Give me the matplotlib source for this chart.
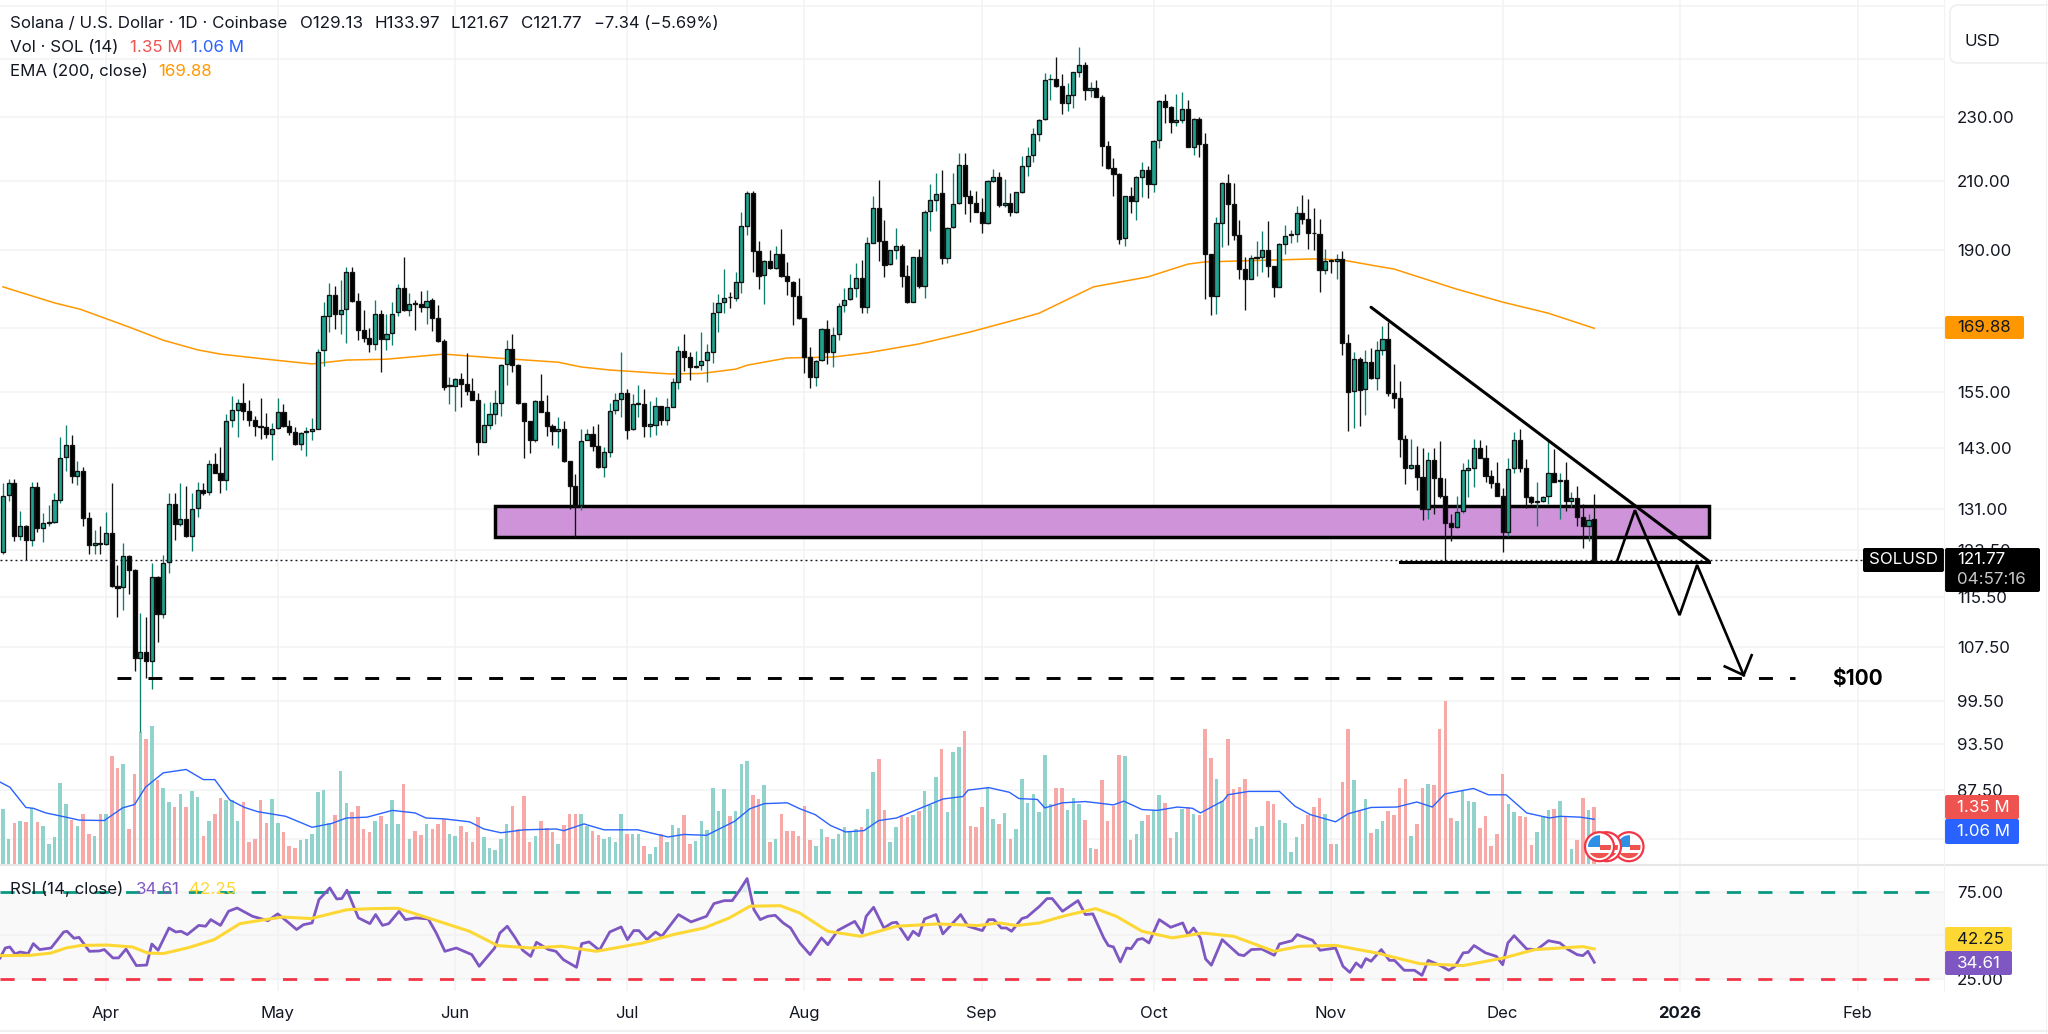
import matplotlib
matplotlib.use("Agg")
import matplotlib.pyplot as plt
from matplotlib.patches import Rectangle, Circle, FancyBboxPatch
from matplotlib.ticker import NullLocator, FixedLocator, FixedFormatter
import numpy as np

plt.rcParams['font.family'] = ['Inter', 'DejaVu Sans']
plt.rcParams['lines.scale_dashes'] = False

first_day = -18  # days relative to 1 April 2025

opens = [
 123.2,133.7,136,126,127.9,125.3,135.3,127.5,128.4,128.6,
 132.8,141.1,143.6,137.4,138.4,129.4,124.5,124.7,124.6,126.6,
 117.3,117.1,122.5,120.1,105.7,106.7,105.3,118.9,112.7,121.4,
 132,128.3,129.2,126,131.2,134.6,134.2,139.7,137.9,136.6,
 148.9,151.1,152.6,150.8,149,147.7,147.5,146,147.2,150.7,
 147.7,146.3,143.9,146.3,146.6,147.1,164.6,173,178.1,173.5,
 174.6,184.3,176.7,169.4,167.6,166.2,173.5,167.2,168.8,174,
 180,174.4,176.1,176,175.2,176.9,172.4,166.8,156.4,156.4,
 158,156.9,155.2,153.3,144.3,147.9,150.1,152.6,161.3,165,
 161.2,152.5,148.7,144.6,153,150.7,147.6,146.5,146.9,140.3,
 135.5,131.7,144.6,145.9,143.5,139.2,142.3,151,153.4,154.8,
 146.9,152.3,152.4,147.7,147.9,151.9,148.9,151.7,157.3,164.4,
 163,160.7,161.2,162.3,164.3,173.9,176.3,177.7,177.4,181.7,
 196.9,206.2,189.9,183.4,187,185.2,189,183.2,181.7,177.9,
 172.3,163,158.5,162.3,169.6,164.3,168.4,175.6,177.1,180.1,
 182.7,175.1,192,202,192.6,186.3,190.1,191.2,183.2,176.5,
 188.1,180.5,201,204.4,206.2,188,196.4,203.4,214.8,205.4,
 203.3,200.9,197.5,210,211.1,202.8,203.5,200.7,206.7,214.5,
 217.8,224.7,229.4,243,243.1,240.5,235,237.7,245.6,248,
 239.3,240.1,236.9,220.9,213.8,212.1,193.4,205.4,204,211,
 213.3,209,222.7,235.5,233.6,228.6,229.2,232.9,220.6,229.4,
 221.4,189,178,197.5,209.2,203,194.2,185,182.4,187.9,
 188.3,190.1,185.8,180.4,191.8,194.2,194.6,200.4,198.9,194.9,
 194.4,184.8,187.3,187,187.8,166.3,155.3,162.5,155.6,161.8,
 158.1,164.7,167.3,154.8,153.6,144.8,139,139.5,137.2,131.1,
 140.6,137,133.5,128.5,127.6,130.6,138.5,139,143,141,
 137.4,136.1,133.5,126.7,138.9,144.7,139,133.4,132.4,132.5,
 133.5,137.9,136.5,136.6,132.5,133.1,129.5,127.8,129.13]

highs = [
 136.1,136.9,136.8,130.6,128.1,136.3,136.3,130.2,131.7,134,
 145.3,147.9,145.7,140.4,139.1,130.5,127.2,127.8,130.5,136.1,
 120.9,124.7,122.6,120.2,112.8,112.2,121.3,119,122.6,134,
 134,136,135.4,134.1,136.2,136.1,140.6,142.1,143.2,150.3,
 154.1,153.4,157.1,153.2,149.8,153.6,150.4,148.2,153.7,152.3,
 149,147.4,146.4,147.5,149.4,165,176.5,181.2,180.5,182,
 185.5,185.5,178.6,174.4,170,176.9,174.4,173.3,176.5,181,
 188.1,178.8,176.9,179.2,179.6,177.5,175.6,167.4,158.3,158.2,
 159.2,163.9,158.1,154.7,152.6,152.8,155.5,161.5,167,168.4,
 161.5,152.6,148.8,153.3,159,154.4,148.1,149.6,148.8,140.3,
 137.8,147.1,147.1,147.7,148.1,143.3,152.6,154.8,164.1,155.8,
 154.5,156.5,155.8,153,154,152,153.6,158.2,165.5,168.5,
 164.2,164.4,168.9,166,176.4,178.4,184.9,179,184.1,200.9,
 207,207,192.6,187.5,190.1,191.1,195.8,186.8,181.8,182.7,
 172.4,165.3,162.3,170,171.9,170.2,176.1,180.1,183.8,186.6,
 187.4,193.8,205.5,210.2,198.6,190.2,196.2,191.8,186,188.2,
 190.3,201.3,208.9,212.4,213.2,196.4,212.4,218.5,218.4,207.2,
 207,205,210.2,213.5,212.6,210.4,206.4,206.6,217.6,220.4,
 226.5,229.4,245.1,244.9,250.8,244.7,241.7,245.6,254.4,249.2,
 242,242.6,237.5,222.2,216.9,212.3,205.6,208.2,211.3,215.6,
 214.4,222.7,235.9,237.8,233.8,238,238.7,235.9,229.7,230.3,
 224.9,189,199.4,209.7,212,209.4,198.6,188.3,188.8,192.6,
 195.3,198.2,185.8,192,197,195.7,202.5,205.7,204.5,202,
 198.7,190.5,187.6,188.9,189.8,168.6,164.1,163.1,164.7,165.1,
 166.9,170.5,171.5,161.4,157.4,145.7,144.8,143.4,143,142.2,
 143,144.4,137,130,133.5,140,140.7,144.8,144.7,143.7,
 138.6,140.1,135.1,141,146.4,147,140.8,133.5,136.3,133.5,
 145,142.8,138,140.1,134.2,135.5,132,130.1,133.97]

lows = [
 122.9,132.6,125.2,125.4,121.8,124.2,126.7,125,127.8,128.5,
 132.2,138.3,136.1,135.7,127.8,122.8,122.9,122.8,124.5,117.2,
 112.2,113.3,115.9,103.8,95.1,102.8,101.1,108.2,112,119.5,
 125.4,127.9,125.9,123.4,129.5,133.6,133.6,137.9,134,134.7,
 147.5,145.4,149,147.6,145.6,144.9,145.1,140.6,147.1,147.5,
 145.7,143.7,142.6,141.4,144.7,146.9,161,169,169.6,168.6,
 166.3,176.5,167,166.6,164.2,164.6,159.6,164.6,165.8,173,
 174.2,173,169.4,173.8,171,169.2,166.6,155.4,152.3,150.9,
 151.7,154.3,153.2,141.7,144.3,147.1,148.1,149.8,156.5,159.6,
 152.3,141,142,144.3,150.7,145.6,143.6,143.1,140.2,131.1,
 125.9,130.8,144.6,142.5,138.9,137.2,141.2,150.3,149.6,145,
 146.7,149.6,145.3,145.4,145.8,147.9,147.9,151.7,155.8,159.8,
 157.8,160.4,160,157.3,161.7,169,173.7,175,176.8,178.8,
 194.2,184.3,179.7,175.9,185,185,183,178.3,170.7,172.2,
 159.4,156,156.3,162.1,161.5,160.8,167,174,176.9,177.8,
 173.7,173.7,191.9,187.1,183,186,187.8,180.3,176.1,176.4,
 180.1,177.5,195.5,201,186.4,186.5,196.2,203.2,200.3,198,
 200.9,194.7,197.3,209.7,202.3,202.3,199.7,200.6,206.4,211.3,
 215.8,222.5,229.2,236,240.2,231,232,233,243.7,235.9,
 237,236.7,214.4,213.5,205.4,191.8,191.3,200.5,198.5,205.2,
 204.8,206.7,220.2,228.1,225,227.3,228.1,220.4,217.9,217.2,
 177.2,173.2,173.5,190.9,191.5,192.9,182.4,174.5,182.3,183.2,
 184.3,183,177.7,180.3,189,192,192.4,197.4,190.5,190,
 178.9,183.7,184,182.4,163.6,146.6,147.2,147.7,149.9,158,
 155.4,163.5,154.1,151.6,141.2,135.9,138.8,134.7,128.9,129.1,
 130,133.2,121.6,125.2,127.5,130.3,133.4,135.3,141,136.2,
 135.1,133.5,123.2,126.1,138,138.1,131.2,132,127.8,132.3,
 132,136.3,129.2,130.6,131.5,127.8,123.8,125.1,121.67]

closes = [
 133.5,136,126,127.9,125.3,135.3,127.5,128.4,128.6,132.8,
 140.9,143.6,137.4,138.4,129.4,124.5,124.7,124.6,126.6,117.3,
 117,122.5,120.1,105.7,106.7,105.3,118.9,112.7,121.2,132,
 128.3,129.2,126,131.1,134.6,134.1,139.7,137.9,136.6,148.7,
 151.1,152.6,150.8,149,147.7,147.5,146,147.1,150.7,147.7,
 146.3,143.9,146.2,146.6,147.1,164.3,172.9,178.1,173.5,174.4,
 184.3,176.7,169.4,167.6,166.2,173.5,167.2,168.6,173.5,180,
 174.4,175.8,175.9,175.2,176.7,172.4,166.8,156.2,156.6,158,
 156.9,155.2,153.3,144.3,147.9,150.1,152.5,161.2,165,161.2,
 152.5,148.7,144.6,153,150.7,147.6,146.5,146.9,140.3,135.5,
 131.6,144.4,145.9,143.5,139.1,142.2,150.9,153.2,154.8,146.8,
 152.3,152.5,147.7,148,151.9,148.9,151.7,157.2,164.4,163,
 160.7,161,162.1,164.1,173.7,176.1,177.4,177.6,181.6,196.7,
 206.2,189.9,183.2,187,185.2,189,183.2,181.8,177.9,172.3,
 163,158.5,162.1,169.6,164.3,168.2,175.5,176.9,180,182.7,
 175.1,191.9,202,192.6,186,190.1,191.2,183.2,176.4,188.1,
 180.5,200.8,204.2,206,188,196.2,203.2,214.8,205.4,203.3,
 200.9,197.5,210,211.1,202.8,203.5,200.7,206.5,214.4,217.7,
 224.5,229.2,242.8,243.2,240.5,235,237.5,245.4,248,239.3,
 240.1,236.9,220.9,213.8,212.1,193.2,205.4,204,211,213.3,
 209,222.5,235.5,233.6,228.6,229.2,232.9,220.6,229.4,221.4,
 189,178,197.5,209.2,203,194.2,185,182.4,187.9,188.3,
 190.1,185.8,180.4,191.7,194,194.6,200.4,198.9,194.8,194.7,
 184.8,187.2,187,187.8,166.3,155.1,162.5,155.4,161.8,158.1,
 164.6,167.3,154.8,153.6,144.8,139,139.5,137.2,131.1,140.6,
 137,133.5,128.5,127.6,130.4,138.5,138.9,143,141,137.4,
 136.1,133.5,126.7,138.8,144.7,139,133.4,132.4,132.5,133.4,
 137.9,136.3,136.6,132.5,133.1,129.5,127.8,129,121.77]

volumes = [
 1.30,.59,.97,1.03,.99,1.33,1.00,.89,.47,.63,
 1.92,1.43,1.05,.89,1.19,.72,.66,1.18,1.19,2.55,
 2.27,2.38,.83,2.14,3.12,2.97,3.28,2.00,1.80,1.48,
 1.34,1.66,1.35,1.74,1.59,.66,1.03,1.18,1.56,1.52,
 1.51,1.01,1.48,.52,.59,1.52,.96,1.54,.96,.77,
 .42,.38,.56,.59,.70,1.71,1.75,.97,1.15,2.20,
 1.45,1.23,1.37,.84,.76,1.03,1.13,.95,1.52,.95,
 1.90,.59,.79,.68,.95,.84,.95,1.07,.71,.66,
 .89,.76,.52,1.11,.64,.39,.34,.59,.95,1.38,
 .84,1.62,.51,.67,1.03,.85,.75,.47,.93,1.19,
 1.19,1.19,.91,.79,.68,.60,.64,.51,1.18,.71,
 .70,.70,.43,.24,.40,.70,.51,.93,.85,1.15,
 .48,.54,1.03,.81,1.79,1.26,1.78,1.13,1.26,2.38,
 2.43,1.64,1.54,1.88,.52,.59,1.19,.79,.79,.67,
 1.37,.58,.43,.83,.63,.59,.71,.87,.79,.83,
 .88,1.31,2.19,2.50,1.29,.52,.88,1.17,1.11,1.17,
 1.26,1.74,1.40,2.07,2.73,1.24,2.65,2.78,3.16,.89,
 .87,1.36,1.82,1.07,.95,1.22,.60,.83,2.01,1.44,
 1.66,1.24,2.59,1.41,1.79,1.81,1.29,1.57,1.42,1.05,
 .39,.36,2.00,1.01,1.37,2.59,2.57,.58,.71,1.03,
 1.17,1.27,1.64,1.45,.62,.77,1.30,1.34,1.18,1.15,
 3.20,2.52,2.01,1.50,2.96,1.78,1.82,2.01,.60,.87,
 .91,1.50,1.43,1.05,.96,.29,.65,.95,1.15,1.34,
 1.57,1.19,.47,.47,1.94,3.21,1.99,1.27,1.55,.73,
 .83,1.03,1.25,1.17,1.79,2.02,.66,.95,1.81,1.90,
 1.88,3.21,3.86,1.10,1.03,1.72,1.49,1.47,.86,1.14,
 .43,.71,2.13,1.43,1.23,1.14,1.12,.46,.76,1.13,
 1.29,1.30,1.49,1.11,.36,.58,1.56,1.29,1.35]

ema_days = [-18,-9,-4.5,4,10,16,20,28,36,42,49,59,64,68,79,83,88,98.5,104,110,112,119,127,133,142,
            151,160,163,172.5,182,189,192,197,211,216,223,225,236,244,252,260]
ema_vals = [180.3,176.2,174.6,170.2,167,164.7,163.7,162.5,161.4,162.3,162.5,163.7,163.2,162.8,161.8,160.7,
            160,159.1,159.2,160.2,161.1,162.8,163,164,166.1,169,172.4,173.6,180.3,182.9,186.3,186.9,187.1,
            187.7,187.4,185.5,185,179.7,176.4,173.6,169.88]

volma_days = [-18.5,-16.8,-14,-12.7,-10.5,-7,-4.7,-.3,2.9,5,6.9,10,14,17,19,21.6,24.2,26.5,31.4,36,39.4,42,45.6,50,54,
              55.9,59,63.5,66,69,73,78.6,80,83.5,87,92.9,98.2,100.9,104.9,109.8,112.5,115,119,121.2,123.9,126.6,129.2,
              132.4,135,138.1,146.2,149.7,150.6,154.2,157.8,159.5,162.7,164,167.1,171.1,176,177.8,181,183.6,187.2,189.8,
              191.2,195.2,196,199.6,205,207.7,210.4,214.8,217,221,225.5,229,231.7,233.9,238.9,241.5,244.6,248.2,252.2,
              254,257.6,260]
volma_vals = [1.94,1.82,1.34,1.32,1.21,1.11,1.04,1.03,1.33,1.41,1.82,2.16,2.24,2.00,2.00,1.52,1.34,1.24,1.13,.87,.96,
              1.09,1.11,1.27,1.21,1.09,1.07,1.00,.83,.74,.81,.83,.79,.95,.81,.81,.64,.70,.68,1.01,1.31,1.43,1.45,1.31,
              1.17,.91,.76,.79,1.03,1.09,1.54,1.60,1.75,1.81,1.70,1.55,1.53,1.33,1.45,1.48,1.40,1.49,1.29,1.27,1.35,1.32,
              1.21,1.50,1.64,1.72,1.72,1.37,1.17,1.00,1.19,1.34,1.35,1.47,1.35,1.66,1.79,1.64,1.64,1.21,1.09,1.13,1.11,1.06]

rsi_days = [-18.5,-17.6,-16.8,-15.9,-15,-13.6,-12.7,-11.6,-9.6,-7.4,-6.8,-5.6,-4.7,-2.9,-1.2,-.3,1.2,2.2,3.5,5.3,7.1,8,
            9.1,11,12.2,13.1,14.2,16.2,17.4,18.3,20,21.4,22.9,25.6,28.3,30,31.8,33.3,34.5,36,37.2,39.1,40.3,41.2,42.1,
            44.1,46.1,47.1,48.3,49.4,51.2,52.3,54.1,56.3,57.7,59.2,61.2,63.9,65.2,67.9,68.8,70.1,71.5,72.8,74.2,75.2,
            77.3,78.6,79.9,82.2,83.1,84.4,86.2,88,90,91.1,92.2,93.1,94.5,96,97.1,100,102.2,104.9,106.2,108,109.4,110.7,
            112,113.2,114.3,115.6,116.9,118.3,119.6,121.2,123,125,126.1,127.9,130.8,132.1,132.8,134.1,135.9,137.3,138.1,
            140.1,141,142,143,145,146.2,149.3,150.6,153.1,154.2,155.1,156.4,157.3,158.2,160,160.9,163.1,164.4,165.3,
            167.1,169.8,171.1,172.4,174.3,175.1,176,177.2,178.3,179.1,180.2,181.1,182.2,184,186,188.1,189,190,191.2,
            192.1,193.1,195,197.9,198.8,200.1,201.9,204.1,205,207.2,208.1,210.8,212.1,214.8,216.1,217.3,218.4,219.3,
            220.1,221,222.8,224.2,225.1,226.8,228.6,229.9,231,233,234.6,235.7,237.1,238,239,241,242.9,244,244.9,246,
            248.2,250,252,254,255.3,257,258,258.9,260]
rsi_vals = [37.1,42.8,43.4,39.4,40.5,39.6,45.3,41.9,42.8,52,52.4,48.4,48.9,40.9,41.1,41.9,37.1,37.1,42.2,32.7,33,45.1,
            41.5,54.3,52,52.4,50.5,55.8,55.3,59.1,55.8,63.9,65.8,61,58.5,62.4,57.6,53.4,56.2,57.2,70.6,77.3,71,71.2,76,
            60.1,56.8,62,55.8,56.8,63.9,59.1,60.1,59.5,51.4,40.9,42.8,39,32.3,42.8,51.4,55.3,48.6,41.5,38,46.1,
            41.9,40.9,36.1,31.7,45.3,46.3,41.5,52,54.9,47.6,52.8,52.8,47.6,52,49.5,62,57.8,61,68.3,70,70,76,
            82.7,64.8,59.1,61,61.6,57.2,54.3,45.7,39,48.6,44.7,53,58.1,51.4,61,66.2,54.3,57.2,57.6,
            47.6,52.4,49.9,59.5,62,50.9,62,55.3,52.8,59.1,59.1,54.3,54.3,52.4,59.7,60.6,66.8,71.2,71.2,
            63.9,70,62,62.4,48.6,44.2,43.4,34.8,42.8,42.4,47.6,48.2,45.7,59.1,54.7,57.2,50.5,54.3,48.6,
            36.5,32.9,47.6,39,38.4,41.9,42.2,38.6,45.1,47,50.5,47.2,41.5,42.8,32.3,28.8,34.2,31.7,
            36.7,35.2,41.9,35.7,35.7,30,30,27.1,35.7,32.9,30,32.3,40,40.3,44.2,40,38,33.2,45.7,49.9,
            42.2,41.9,47,45.7,42.2,39,38.4,40.9,34.61]

rsima_days = [-18.5,-13.2,-9.6,-7,-4.3,.2,4.6,7.3,10,14.4,18.9,23.4,27.8,30.9,35.8,42.1,46.5,51,57.2,63.5,68.4,74.2,79.5,
              85.7,93.8,99.1,104.5,108.9,112.5,117.8,121.2,126.1,131.9,138.1,145.3,152.4,156,159.1,163.1,167.6,172.9,
              176.5,181,186.3,191.6,197,204.1,208.6,214.8,221.9,229.5,237.1,244.2,249.6,258,260]
rsima_vals = [38.4,38.6,39.9,42.8,44.3,44.5,43.4,39.9,39.6,43,47.6,56.8,59.1,60.6,59.7,64.8,65.4,65.6,59.1,52.4,44.2,42.8,
              43.8,40.9,45.7,50.5,54.3,60.1,66.8,67.1,62.9,52.4,49.5,55.3,56.6,55.7,57.2,55.7,57.2,61.4,65.4,61,52.4,48.6,
              51.4,49.5,40.9,43.8,44.3,40,33.8,32.7,37.1,41.9,43.6,42.25]

month_days = [0,30,61,91,122,153,183,214,244,275,306]
month_labels = ['Apr','May','Jun','Jul','Aug','Sep','Oct','Nov','Dec','2026','Feb']
price_ticks = [270,250,230,210,190,170,155,143,131,123.5,115.5,107.5,99.5,93.5,87.5,81.5]
price_shown = [230,210,190,155,143,131,123.5,115.5,107.5,99.5,93.5,87.5]
rsi_ticks = [75,25]

zone_days, zone_prices = (68, 280), (125.8, 131.6)
trend_days, trend_prices = [221, 280], [175.1, 121.6]
support_days, support_prices = [226, 280], [121.4, 121.4]
target_days, target_prices = [2, 295], [102.8, 102.8]
path_days = [264, 267.1, 274.9, 277.96, 286.1]
path_prices = [121.6, 130.8, 112.5, 120.9, 103.2]
head_days = [282.8, 286.1, 287.5]
head_prices = [104.5, 103.2, 106.2]

# ---------------------------------------------------------------- layout
W, H = 2048, 1034
fig = plt.figure(figsize=(W/100, H/100), dpi=100, facecolor='white')
def rect(x0, y0, x1, y1):
    return [x0/W, 1-y1/H, (x1-x0)/W, (y1-y0)/H]

days = np.arange(first_day, first_day+len(closes))
o, h, l, c = map(np.array, (opens, highs, lows, closes))
up = c >= o
xlim = (-18.52, 321.1)
GRID = '#f2f2f3'
TEXT = '#131722'

ax_g = fig.add_axes(rect(0, 0, 1944, 864), zorder=1)
ax_g.set_yscale('log')
ax_g.set_xlim(*xlim)
ax_g.set_ylim(78.67, 272.3)
ax_g.yaxis.set_major_locator(FixedLocator(price_ticks))
ax_g.yaxis.set_major_formatter(FixedFormatter(
    [f'{t:.2f}' if t in price_shown else '' for t in price_ticks]))
ax_g.yaxis.set_minor_locator(NullLocator())
ax_g.yaxis.tick_right()
ax_g.tick_params(axis='y', length=0, pad=9.4, labelsize=12.2, labelcolor=TEXT)
ax_g.set_xticks(month_days)
ax_g.tick_params(axis='x', length=0, labelbottom=False)
ax_g.grid(True, color=GRID, lw=1.1)
ax_g.set_axisbelow(True)
for s in ax_g.spines.values():
    s.set_visible(False)

ax_v = fig.add_axes(rect(0, 0, 1944, 864), sharex=ax_g, zorder=2)
ax_v.patch.set_alpha(0)
ax_v.set_ylim(0, 864/42.2)
ax_v.bar(days, volumes, width=0.62, color=['#92d2cc' if u else '#f7a9a7' for u in up], linewidth=0)
ax_v.plot(volma_days, volma_vals, color='#2962ff', lw=1.0)
ax_v.axis('off')

ax_c = fig.add_axes(rect(0, 0, 1944, 864), sharex=ax_g, sharey=ax_g, zorder=3)
ax_c.patch.set_alpha(0)
ax_c.axis('off')
# zone sits under the candles
ax_c.add_patch(Rectangle((zone_days[0], zone_prices[0]), zone_days[1]-zone_days[0],
                         zone_prices[1]-zone_prices[0], fc='#ce93d8', ec='#000000', lw=2.5, zorder=1))
ax_c.plot(ema_days, ema_vals, color='#ff9800', lw=1.1, zorder=2)
ax_c.vlines(days, l, h, colors=['#0e7d6d' if u else '#111111' for u in up], lw=0.95, zorder=3)
ax_c.bar(days, np.maximum(np.abs(c-o), 0.05), bottom=np.minimum(o, c), width=0.72,
         color=['#1fa38e' if u else '#000000' for u in up], edgecolor='#111111', linewidth=0.95, zorder=4)
ax_c.axhline(closes[-1], color='#131722', lw=1.0, ls=(0, (1.4, 2.2)), zorder=5)
ax_c.plot(target_days, target_prices, color='black', lw=2.1, ls=(0, (10, 12.3)), zorder=6)
ax_c.plot(trend_days, trend_prices, color='black', lw=2.2, solid_capstyle='round', zorder=6)
ax_c.plot(support_days, support_prices, color='black', lw=2.2, zorder=6)
ax_c.plot(path_days, path_prices, color='black', lw=1.9, solid_joinstyle='miter', zorder=6)
ax_c.plot(head_days, head_prices, color='black', lw=1.9, solid_joinstyle='miter', zorder=6)

ax_r = fig.add_axes(rect(0, 866, 1944, 991), sharex=ax_g, zorder=1)
ax_r.set_ylim(18.1, 89.9)
ax_r.set_yticks(rsi_ticks, [f'{t:.2f}' for t in rsi_ticks])
ax_r.set_yticks([50], minor=True)
ax_r.yaxis.tick_right()
ax_r.tick_params(axis='y', which='both', length=0, pad=9.4, labelsize=12.2, labelcolor=TEXT)
ax_r.set_xticks(month_days, month_labels)
ax_r.tick_params(axis='x', length=0, pad=11, labelsize=12, labelcolor=TEXT)
ax_r.get_xticklabels()[9].set_fontweight('bold')
ax_r.grid(True, color=GRID, lw=1.1)
ax_r.grid(True, which='minor', axis='y', color=GRID, lw=1.1)
ax_r.set_axisbelow(True)
for s in ax_r.spines.values():
    s.set_visible(False)
ax_r.axhspan(25, 75, color='#f9f9f9', lw=0, zorder=0)
ax_r.axhline(75, color='#089981', lw=2.0, ls=(0, (10.2, 12.4)))
ax_r.axhline(25, color='#f23645', lw=2.0, ls=(0, (10.2, 12.4)))
rd, rv = np.array(rsi_days), np.array(rsi_vals)
ax_r.fill_between(rd, 75, rv, where=rv > 75, color='#089981', alpha=0.12, lw=0)
ax_r.plot(rsi_days, rsi_vals, color='#7e57c2', lw=2.0, solid_joinstyle='round')
ax_r.plot(rsima_days, rsima_vals, color='#fdd835', lw=2.2)

# ---------------------------------------------------------------- overlay in pixels
ov = fig.add_axes([0, 0, 1, 1], zorder=10)
ov.set_xlim(0, W)
ov.set_ylim(H, 0)
ov.patch.set_alpha(0)
ov.axis('off')

ov.plot([0, W], [865, 865], color='#e7e7e9', lw=1.5)
ov.plot([0, W], [1031, 1031], color='#f0f0f2', lw=1.5)
ov.plot([1944, 1944], [0, 991], color='#f2f2f3', lw=0.8)
ov.plot([2046, 2046], [0, 1034], color='#f2f2f3', lw=0.8)
ov.add_patch(FancyBboxPatch((1950, 5), 110, 58, boxstyle='round,pad=0,rounding_size=8',
                            fc='white', ec='#ececee', lw=1.0, clip_on=True))

def label(x, y, s, color=TEXT, size=12.2, weight='normal', ha='left'):
    ov.text(x, y, s, color=color, fontsize=size, fontweight=weight, ha=ha, va='center')

def badge(x0, y0, x1, y1, color):
    ov.add_patch(FancyBboxPatch((x0, y0), x1-x0, y1-y0, boxstyle='round,pad=0,rounding_size=2',
                                fc=color, ec='none'))

label(1965, 41, 'USD')
label(10, 23, 'Solana / U.S. Dollar · 1D · Coinbase')
label(300, 23, 'O129.13')
label(375, 23, 'H133.97')
label(451, 23, 'L121.67')
label(521, 23, 'C121.77')
label(594, 23, '−7.34 (−5.69%)', size=11.9)
label(10, 47, 'Vol · SOL (14)')
label(130, 47, '1.35 M', '#ef5350')
label(191, 47, '1.06 M', '#2962ff')
label(10, 71, 'EMA (200, close)')
label(158, 71, '169.88', '#ff9800')
label(10, 889, 'RSI (14, close)')
label(136, 889, '34.61', '#7e57c2')
label(189, 889, '42.25', '#fdd835')
label(1832, 679, '$100', 'black', 15, 'bold')

badge(1945, 316, 2024, 339, '#ff9800')
label(1957, 327, '169.88')
badge(1863, 548, 1944, 572, '#000000')
label(1869, 560, 'SOLUSD', 'white')
badge(1945, 548, 2040, 592, '#000000')
label(1957, 560, '121.77', 'white')
label(1957, 579, '04:57:16', '#c8c8c8')
badge(1945, 795, 2019, 819, '#ef5350')
label(1957, 807, '1.35 M', 'white')
badge(1945, 819, 2019, 844, '#2962ff')
label(1957, 832, '1.06 M', 'white')
badge(1945, 927, 2012, 951, '#fdd835')
label(1957, 939, '42.25')
badge(1945, 951, 2012, 975, '#7e57c2')
label(1957, 963, '34.61', 'white')

def flag(cx, cy):
    ov.add_patch(Circle((cx, cy), 14.5, fc='white', ec='#f23645', lw=1.6, zorder=4))
    clip = Circle((cx, cy), 11.5, transform=ov.transData)
    parts = [((cx-12, cy-12), 12.5, 12, '#2e8fe6'),
             ((cx+0.5, cy-2), 12, 5, '#ef5350'),
             ((cx-12, cy+6.5), 24, 6, '#ef5350')]
    for xy, w, hh, col in parts:
        r = Rectangle(xy, w, hh, fc=col, ec='none', zorder=4)
        ov.add_patch(r)
        r.set_clip_path(clip)

for cx in (1629, 1606.5, 1599.5):
    flag(cx, 846.7)

fig.savefig('out.png', dpi=100)
